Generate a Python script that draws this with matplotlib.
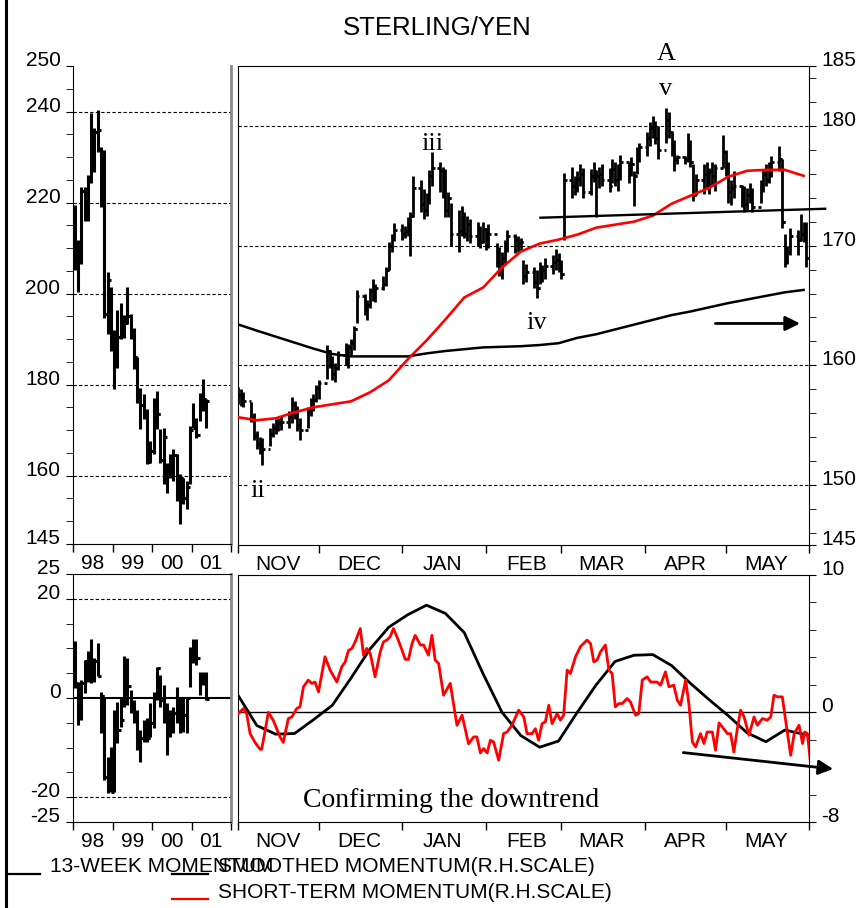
import matplotlib
matplotlib.use("Agg")
from datetime import datetime

import matplotlib.dates as mdates
import matplotlib.pyplot as plt
import numpy as np
import pandas as pd
from matplotlib.lines import Line2D
from matplotlib.ticker import (FixedFormatter, FixedLocator, FuncFormatter,
                               MultipleLocator, NullFormatter)

plt.rcParams['font.family'] = ['Liberation Sans', 'DejaVu Sans']
plt.rcParams['axes.unicode_minus'] = False
SERIF = ['Liberation Serif', 'DejaVu Serif']

# ---------------- data ----------------
YEAR_LABELS = ['98', '99', '00', '01']

# monthly sterling/yen bars, Jan 1998 - May 2001
long_high = [219.4, 211.7, 223.4, 223.4, 226.0, 239.7, 236.4, 240.3, 232.2, 231.5,
             204.7, 201.4, 192.0, 196.3, 198.0, 195.2, 201.4, 195.6, 192.5, 186.0,
             179.3, 178.0, 174.7, 167.7, 177.1, 178.7, 170.3, 170.5, 162.8, 164.8,
             165.9, 164.8, 160.4, 159.5, 158.9, 171.0, 176.0, 172.7, 178.2, 181.3,
             176.9]
long_low = [205.1, 200.3, 206.6, 216.0, 216.0, 224.2, 226.7, 231.0, 219.0, 194.7,
            191.2, 187.5, 179.1, 183.7, 190.0, 190.3, 193.4, 190.0, 183.5, 176.0,
            170.3, 172.5, 162.6, 162.8, 164.8, 170.3, 162.8, 158.2, 156.2, 159.5,
            158.9, 154.5, 149.4, 153.8, 152.7, 158.2, 170.5, 168.3, 172.0, 174.3,
            170.5]
long_close = [207.5, 208.0, 222.5, 220.5, 225.5, 231.0, 235.5, 236.0, 231.0, 195.5,
              203.0, 188.0, 187.5, 190.5, 192.0, 193.5, 195.0, 191.0, 186.0, 176.5,
              175.5, 173.0, 163.0, 165.5, 173.5, 173.5, 163.5, 168.5, 160.5, 160.0,
              164.5, 155.5, 159.5, 155.0, 157.5, 170.0, 170.5, 169.0, 177.5, 176.8,
              176.5]

# monthly 13-week momentum bars
mom_high = [11.4, 3.3, 3.6, 7.7, 9.4, 11.9, 8.1, 11.1, 1.2, 0.2,
            -11.9, -9.9, -2.4, -0.8, 0.2, 8.5, 8.1, 1.6, -0.4, -2.4,
            -6.5, -4.4, -4.0, -1.0, 1.2, 6.3, 4.6, 2.6, -1.0, -2.4,
            -1.8, 2.2, 0.2, 0.2, 0.2, 10.3, 11.9, 11.9, 5.3, 5.3,
            5.3]
mom_low = [2.0, -5.5, -4.4, 1.0, 3.3, 3.0, 3.2, 4.4, -7.1, -16.6,
           -19.2, -19.0, -19.0, -9.1, -5.9, -1.8, -1.4, -3.0, -5.1, -10.5,
           -12.9, -8.9, -8.9, -7.9, -6.1, -0.4, -1.8, -5.1, -11.5, -7.9,
           -7.1, -5.1, -7.1, -6.9, -7.1, 2.2, 7.1, 6.7, 0.6, 2.6,
           -0.4]
mom_close = [3.0, -1.5, 3.0, 7.5, 7.0, 4.5, 7.5, 4.5, 0.5, -16.0,
             -14.5, -19.0, -3.0, -6.5, -4.5, 0.0, 2.5, -1.0, -3.5, -9.0,
             -8.0, -7.5, -8.0, -5.0, 0.0, 6.0, -0.5, -1.5, -7.5, -5.0,
             -3.0, -3.5, -3.5, -3.5, 0.0, 8.0, 8.0, 8.0, 4.0, 3.5,
             -0.2]

# daily bars, business days 1 Nov 2000 - 31 May 2001 (one row per week)
daily_high = [
    158.2, 158.0, 157.8,
    156.9, 156.0, 154.5, 154.0, 153.9,
    154.8, 155.2, 155.5, 155.6, 155.8,
    156.2, 157.4, 157.0, 156.6, 155.6,
    156.5, 157.3, 157.6, 158.4, 158.8,
    161.7, 161.3, 160.8, 160.2, 161.2,
    161.9, 161.8, 162.2, 163.3, 166.3,
    166.0, 165.5, 166.5, 167.2, 166.8,
    167.5, 168.2, 170.3, 171.0, 171.9,
    171.8, 171.6, 172.4, 172.8, 175.8,
    175.5, 174.7, 174.4, 176.3, 177.8,
    177.0, 176.6, 176.4, 174.5, 173.6,
    173.0, 173.3, 172.8, 172.5, 172.2,
    172.0, 171.6, 172.0, 171.5, 171.8,
    170.2, 169.9, 169.5, 170.5, 171.3,
    171.0, 170.8, 170.6, 168.8, 168.5,
    168.2, 168.0, 168.6, 168.4, 169.0,
    169.2, 169.7, 169.4, 168.8, 176.1,
    176.6, 175.8, 176.2, 176.8, 176.5,
    176.4, 177.0, 176.3, 176.6, 176.8,
    176.5, 177.2, 177.0, 176.8, 177.6,
    177.0, 177.4, 176.2, 178.2, 178.6,
    179.5, 180.3, 180.8, 180.4, 180.0,
    181.5, 181.2, 179.6, 178.8, 177.6,
    177.5, 179.4, 178.8, 176.8, 176.0,
    176.8, 177.0, 176.5, 177.0, 176.8,
    179.2, 178.0, 177.0, 175.5, 176.2,
    175.1, 175.0, 174.8, 175.2, 174.8,
    175.5, 176.4, 176.8, 177.0, 177.5,
    178.3, 177.2, 171.0, 170.0, 171.5,
    171.3, 172.6, 172.0, 172.0,
]
daily_low = [
    156.8, 156.6, 156.5,
    155.3, 153.8, 153.0, 152.6, 151.7,
    153.3, 154.0, 154.3, 154.5, 154.6,
    154.8, 155.2, 155.5, 154.5, 153.8,
    154.8, 155.8, 156.2, 156.9, 157.2,
    158.9, 159.8, 158.8, 158.6, 159.6,
    160.0, 159.8, 160.8, 161.3, 163.5,
    164.2, 163.8, 164.8, 165.4, 165.3,
    166.3, 166.6, 168.0, 169.5, 170.4,
    170.5, 170.6, 170.8, 169.1, 172.4,
    172.8, 172.2, 172.5, 173.5, 175.0,
    174.5, 174.0, 172.4, 172.4, 170.0,
    169.5, 170.8, 170.6, 170.4, 170.2,
    170.0, 169.8, 170.2, 169.6, 169.8,
    168.2, 167.5, 167.2, 168.5, 169.5,
    169.4, 169.5, 169.6, 166.8, 167.0,
    166.5, 165.6, 166.8, 167.0, 167.2,
    167.6, 168.0, 167.8, 167.2, 170.5,
    174.0, 174.2, 174.5, 175.0, 174.0,
    174.2, 175.3, 172.4, 174.8, 175.0,
    174.5, 175.2, 175.0, 174.6, 175.5,
    175.2, 175.8, 173.3, 176.0, 177.0,
    177.5, 178.3, 179.0, 178.5, 177.2,
    178.6, 179.0, 177.5, 176.2, 176.8,
    176.8, 177.0, 176.6, 173.7, 174.2,
    174.3, 174.8, 174.3, 175.0, 174.6,
    176.5, 175.8, 173.6, 173.4, 174.0,
    173.2, 172.8, 173.0, 173.6, 172.8,
    173.6, 174.5, 175.0, 175.2, 175.7,
    176.2, 171.5, 168.2, 168.5, 169.2,
    169.2, 170.4, 170.3, 168.2,
]
daily_close = [
    157.5, 157.2, 157.0,
    155.6, 154.1, 153.4, 153.2, 153.0,
    154.3, 154.8, 155.0, 155.2, 155.3,
    155.8, 156.8, 155.9, 155.0, 154.6,
    156.2, 156.8, 157.1, 158.1, 158.5,
    161.2, 160.2, 159.3, 159.8, 160.9,
    161.2, 161.5, 161.9, 163.0, 165.8,
    164.6, 165.0, 166.2, 165.8, 166.5,
    166.8, 168.0, 170.0, 170.6, 171.3,
    171.0, 171.2, 172.0, 172.5, 174.8,
    173.5, 173.0, 174.0, 175.8, 176.5,
    176.2, 175.0, 173.0, 174.0, 171.0,
    171.2, 172.5, 171.0, 171.8, 170.8,
    171.0, 170.3, 171.4, 170.1, 171.0,
    168.8, 168.0, 169.0, 170.0, 170.8,
    170.5, 170.2, 170.3, 167.5, 167.8,
    167.0, 166.5, 167.8, 168.0, 168.3,
    168.6, 168.8, 168.2, 167.6, 175.5,
    175.0, 174.8, 175.6, 176.0, 174.5,
    175.8, 176.2, 175.8, 176.0, 175.5,
    175.0, 176.4, 175.5, 176.2, 177.0,
    176.3, 176.8, 175.8, 177.5, 178.2,
    179.0, 179.8, 180.2, 179.0, 178.0,
    180.5, 179.5, 178.0, 177.2, 177.4,
    177.2, 178.6, 177.0, 174.2, 175.5,
    176.0, 175.2, 176.2, 175.8, 176.5,
    177.8, 176.2, 174.5, 174.8, 175.0,
    174.0, 173.5, 174.2, 174.6, 173.2,
    175.0, 176.0, 175.5, 176.8, 177.0,
    177.2, 172.0, 169.0, 169.5, 170.8,
    170.5, 171.0, 171.5, 169.0,
]

# moving averages sampled weekly (days after 1 Nov 2000)
ma_days = list(range(0, 211, 7))
ma_short = [155.67, 155.42, 155.58, 156.08, 156.5, 156.75, 157.0, 157.75, 158.75,
            160.5, 162.08, 163.83, 165.67, 166.5, 168.17, 169.5, 170.17, 170.5,
            170.92, 171.5, 171.75, 172.0, 172.5, 173.5, 174.17, 174.83, 175.75,
            176.25, 176.33, 176.33, 175.83]
ma_long = [163.42, 162.9, 162.4, 161.9, 161.4, 160.95, 160.75, 160.75, 160.75,
           160.75, 161.0, 161.2, 161.35, 161.5, 161.55, 161.6, 161.7, 161.85,
           162.3, 162.6, 163.0, 163.4, 163.8, 164.2, 164.5, 164.85, 165.2, 165.5,
           165.8, 166.1, 166.3]

# neckline of the top (days, level)
neck_days = [112.3, 218.0]
neck_level = [172.33, 173.08]

# smoothed momentum (weekly) and short-term momentum
smooth_days = list(range(0, 211, 7)) + [212]
smooth_mom = [1.24, -0.97, -1.6, -1.55, -0.55, 0.5, 2.5, 4.6, 6.2, 7.1, 7.8, 7.2,
              5.8, 2.8, 0.0, -1.7, -2.55, -2.1, 0.0, 2.0, 3.7, 4.15, 4.2, 3.4,
              2.1, 0.9, -0.25, -1.5, -2.15, -1.3, -1.6, -1.7]
st_days = [0.1, 2.0, 3.2, 4.5, 6.3, 8.2, 8.8, 11.3, 13.1, 15.6, 16.8, 18.7, 20.0,
           21.8, 23.0, 24.3, 26.1, 27.4, 28.6, 29.9, 32.3, 34.2, 36.7, 38.5, 39.8,
           41.0, 42.3, 43.5, 45.4, 46.6, 47.8, 49.1, 50.9, 52.8, 54.0, 55.3, 56.5,
           57.7, 59.0, 60.2, 62.1, 63.3, 64.6, 65.8, 67.7, 68.9, 70.7, 72.0, 73.2,
           74.5, 76.3, 78.8, 81.3, 83.2, 85.6, 87.5, 88.7, 90.0, 91.2, 92.5, 93.7,
           94.9, 96.8, 98.6, 99.9, 101.7, 104.2, 106.1, 107.3, 109.2, 110.4, 111.6,
           112.9, 114.1, 115.4, 116.6, 118.5, 119.7, 120.9, 122.2, 123.4, 125.3,
           127.1, 129.6, 130.9, 132.1, 133.3, 134.6, 136.4, 137.7, 138.9, 140.1,
           141.4, 142.6, 144.5, 145.7, 147.6, 148.8, 150.1, 151.9, 153.2, 155.6,
           156.9, 158.7, 160.0, 161.8, 163.1, 164.3, 166.2, 167.4, 168.7, 169.9,
           171.7, 173.0, 174.2, 176.1, 177.3, 178.6, 179.8, 181.7, 182.9, 184.1,
           185.4, 186.6, 187.9, 189.7, 191.6, 192.8, 194.7, 196.5, 197.8, 199.0,
           200.3, 202.1, 203.3, 205.2, 206.5, 208.3, 209.6, 210.4, 211.4, 212.4]
st_mom = [-0.1, 0.27, -0.1, -1.56, -2.2, -2.7, -2.7, 0.0, -0.6, -1.8, -2.2, -0.46,
          -0.34, 0.27, 0.39, 1.85, 2.34, 2.1, 2.2, 1.48, 4.04, 3.07, 2.2, 3.3, 3.67,
          4.5, 4.65, 5.13, 6.1, 4.16, 4.65, 4.28, 2.58, 4.4, 5.13, 5.26, 5.5, 6.1,
          5.5, 4.9, 3.85, 3.85, 5.0, 5.6, 4.9, 4.9, 4.16, 5.6, 3.8, 3.55, 1.24, 2.1,
          -0.95, -0.22, -2.3, -1.8, -1.8, -2.97, -2.65, -2.97, -2.04, -2.17, -3.5,
          -1.56, -1.44, -0.95, 0.15, -0.34, -1.56, -1.56, -1.2, -2.04, -0.83, -0.7,
          0.51, -0.83, -0.1, -0.58, -0.22, 3.07, 2.82, 4.04, 4.77, 5.26, 5.0, 3.67,
          3.8, 4.4, 4.9, 3.07, 2.82, 0.39, 0.63, 0.63, 1.0, 0.75, -0.22, -0.1, 2.34,
          2.58, 2.2, 2.2, 1.97, 2.94, 1.85, 1.97, 0.88, 0.51, 2.34, 0.63, -2.17,
          -2.53, -1.56, -2.28, -1.44, -1.44, -2.77, -0.78, -1.07, -1.56, -1.56, -2.9,
          -1.19, 0.15, -0.34, -1.68, -0.34, -0.95, -0.46, -0.58, -0.34, 1.24, 1.12,
          1.12, -0.58, -3.14, -1.56, -0.95, -2.28, -1.44, -1.56, -3.38]

# ---------------- helpers ----------------
W, H = 861, 908
T0 = mdates.date2num(datetime(2000, 11, 1))
T1 = mdates.date2num(datetime(2001, 6, 1))
TICK_FS = 15


def box(x0, y0, x1, y1):
    return [x0 / W, 1 - y1 / H, (x1 - x0) / W, (y1 - y0) / H]


def ohlc(ax, x, hi, lo, cl, w, lw):
    x = np.asarray(x, dtype=float)
    cl = np.asarray(cl, dtype=float)
    op = np.concatenate([[cl[0]], cl[:-1]])
    ax.vlines(x, lo, hi, colors='k', lw=lw, zorder=3)
    ax.hlines(op, x - w, x, colors='k', lw=lw, zorder=3)
    ax.hlines(cl, x, x + w, colors='k', lw=lw, zorder=3)


def year_axis(ax):
    ax.set_xlim(1998, 2002)
    ax.xaxis.set_major_locator(FixedLocator([1998, 1999, 2000, 2001, 2002]))
    ax.xaxis.set_major_formatter(NullFormatter())
    ax.xaxis.set_minor_locator(FixedLocator([1998.5, 1999.5, 2000.5, 2001.5]))
    ax.xaxis.set_minor_formatter(FixedFormatter(YEAR_LABELS))
    ax.tick_params(axis='x', which='major', direction='out', length=6, width=1)
    ax.tick_params(axis='x', which='minor', length=0, pad=7, labelsize=TICK_FS)


def month_axis(ax):
    ax.set_xlim(T0, T1)
    ax.xaxis.set_major_locator(mdates.MonthLocator())
    ax.xaxis.set_major_formatter(NullFormatter())
    ax.xaxis.set_minor_locator(mdates.MonthLocator(bymonthday=16))
    ax.xaxis.set_minor_formatter(
        FuncFormatter(lambda v, p: mdates.num2date(v).strftime('%b').upper()))
    ax.tick_params(axis='x', which='major', direction='out', length=6, width=1)
    ax.tick_params(axis='x', which='minor', length=0, pad=7, labelsize=TICK_FS)


def baseline_labels(ax):
    for lab in ax.get_yticklabels():
        lab.set_verticalalignment('baseline')


dash = (0, (3, 2))
fig = plt.figure(figsize=(8.61, 9.08), dpi=100)

ax1 = fig.add_axes(box(73, 66, 231, 544))
ax2 = fig.add_axes(box(238, 66, 809, 545))
ax3 = fig.add_axes(box(73, 574, 231, 822))
ax4 = fig.add_axes(box(238, 575, 809, 822))

for ax in (ax1, ax3):
    ax.spines['right'].set_color('#8a8a8a')
    ax.spines['right'].set_linewidth(2)
ax1.spines['top'].set_visible(False)

# ---- long term price ----
month_x = 1998 + (np.arange(len(long_close)) + 0.5) / 12
ohlc(ax1, month_x, long_high, long_low, long_close, 0.8 / 12, 2.2)
ax1.hlines([160, 180, 200, 220, 240], 1998, 2002, colors='k', lw=0.8, linestyles=dash)
ax1.set_ylim(145, 250)
ax1.set_yticks([145, 160, 180, 200, 220, 240, 250])
ax1.yaxis.set_minor_locator(MultipleLocator(5))
ax1.tick_params(axis='y', which='both', direction='out', length=5, labelsize=TICK_FS, pad=4)
year_axis(ax1)

# ---- daily price ----
bdays = mdates.date2num(pd.bdate_range('2000-11-01', '2001-05-31').to_pydatetime())
ohlc(ax2, bdays, daily_high, daily_low, daily_close, 1.0, 2.0)
ax2.hlines([150, 160, 170, 180], T0, T1, colors='k', lw=0.8, linestyles=dash)
ax2.plot(T0 + np.array(ma_days), ma_long, color='k', lw=1.8, zorder=4)
ax2.plot(T0 + np.array(ma_days), ma_short, color='#ff0000', lw=1.9, zorder=4)
ax2.plot(T0 + np.array(neck_days), neck_level, color='k', lw=1.7, zorder=4, clip_on=False)
ax2.annotate('', xy=(T0 + 209.7, 163.5), xytext=(T0 + 176.2, 163.5),
             arrowprops=dict(arrowstyle='-|>', color='k', lw=2, mutation_scale=22))
ax2.set_ylim(145, 185)
ax2.yaxis.tick_right()
ax2.set_yticks([145, 150, 160, 170, 180, 185])
ax2.yaxis.set_minor_locator(FixedLocator(list(range(146, 185, 2))))
ax2.tick_params(axis='y', which='both', direction='out', length=5, labelsize=TICK_FS, pad=4)
month_axis(ax2)

ax2.text(T0 + 158.9, 185.5, 'A', ha='center', va='baseline', family=SERIF, fontsize=19)
ax2.text(T0 + 158.9, 182.6, 'v', ha='center', va='baseline', family=SERIF, fontsize=19)
ax2.text(T0 + 72.1, 178.0, 'iii', ha='center', va='baseline', family=SERIF, fontsize=19)
ax2.text(T0 + 110.8, 163.0, 'iv', ha='center', va='baseline', family=SERIF, fontsize=19)
ax2.text(T0 + 7.4, 149.0, 'ii', ha='center', va='baseline', family=SERIF, fontsize=19,
         bbox=dict(facecolor='white', edgecolor='none', pad=1), zorder=5)

# ---- 13 week momentum ----
ohlc(ax3, month_x, mom_high, mom_low, mom_close, 0.8 / 12, 2.2)
ax3.hlines([-20, 20], 1998, 2002, colors='k', lw=0.8, linestyles=dash)
ax3.axhline(0, color='k', lw=1.5)
ax3.set_ylim(-25, 25)
ax3.set_yticks([-25, -20, 0, 20, 25])
ax3.yaxis.set_minor_locator(MultipleLocator(5))
ax3.tick_params(axis='y', which='both', direction='out', length=5, labelsize=TICK_FS, pad=4)
year_axis(ax3)

# ---- daily momentum ----
ax4.axhline(0, color='k', lw=1.0)
ax4.plot(T0 + np.array(smooth_days), smooth_mom, color='k', lw=2, zorder=3)
ax4.plot(T0 + np.array(st_days), st_mom, color='#ff0000', lw=2, zorder=4)
ax4.annotate('', xy=(T0 + 222, -4.16), xytext=(T0 + 164.3, -2.92),
             arrowprops=dict(arrowstyle='-|>', color='k', lw=2, mutation_scale=22),
             annotation_clip=False)
ax4.text(T0 + 24.2, -6.93, 'Confirming the downtrend', ha='left', va='baseline',
         family=SERIF, fontsize=20)
ax4.set_ylim(-8, 10)
ax4.yaxis.tick_right()
ax4.set_yticks([-8, 0, 10])
ax4.yaxis.set_minor_locator(MultipleLocator(2))
ax4.tick_params(axis='y', which='both', direction='out', length=5, labelsize=TICK_FS, pad=4)
month_axis(ax4)

for ax in (ax1, ax2, ax3, ax4):
    baseline_labels(ax)

# ---- title, legend, frame ----
fig.text(437 / W, 1 - 28 / H, 'STERLING/YEN', ha='center', va='center', fontsize=18.5)
fig.add_artist(Line2D([5.5 / W, 5.5 / W], [0, 1], color='k', lw=2.2))
fig.add_artist(Line2D([8 / W, 40 / W], [1 - 874 / H] * 2, color='k', lw=1.6))
fig.add_artist(Line2D([172 / W, 208 / W], [1 - 874 / H] * 2, color='k', lw=1.6))
fig.add_artist(Line2D([172 / W, 208 / W], [1 - 899 / H] * 2, color='#ff0000', lw=1.6))
fig.text(50 / W, 1 - 867 / H, '13-WEEK MOMENTUM', ha='left', va='center', fontsize=15)
fig.text(218 / W, 1 - 867 / H, 'SMOOTHED MOMENTUM(R.H.SCALE)', ha='left', va='center',
         fontsize=15)
fig.text(218 / W, 1 - 892 / H, 'SHORT-TERM MOMENTUM(R.H.SCALE)', ha='left', va='center',
         fontsize=15)

fig.savefig('out.png', dpi=100)
plt.close(fig)
